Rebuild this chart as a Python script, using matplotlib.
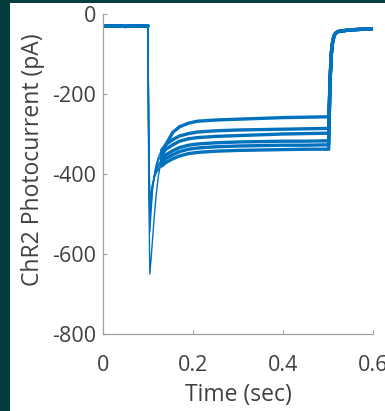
import numpy as np
import matplotlib
matplotlib.use("Agg")
import matplotlib.pyplot as plt
from matplotlib.patches import Rectangle

# ---------------- data ----------------
# shared baseline before light onset
t_pre = [0.0, 0.025, 0.05, 0.075, 0.0999]
i_pre = [-30, -30, -31, -30, -30]

# light-on response, one list per sweep
t_on = [0.1, 0.1015, 0.104, 0.107, 0.110, 0.114, 0.118, 0.123, 0.13, 0.14,
        0.155, 0.17, 0.19, 0.21, 0.25, 0.3, 0.35, 0.4, 0.45, 0.5015]
i_on_1 = [-40, -400, -650, -610, -565, -505, -455, -405, -362, -326,
          -296, -282, -273, -268, -265, -263, -261, -259, -258, -257]
i_on_2 = [-40, -330, -545, -490, -440, -402, -378, -358, -341, -326,
          -314, -305, -299, -295, -292, -290, -289, -288, -287, -286]
i_on_3 = [-40, -315, -520, -475, -435, -404, -384, -366, -351, -338,
          -327, -318, -312, -309, -306, -304, -302, -300, -299, -298]
i_on_4 = [-40, -305, -505, -465, -432, -407, -390, -376, -364, -352,
          -342, -334, -328, -325, -322, -320, -319, -318, -318, -317]
i_on_5 = [-40, -295, -490, -455, -428, -407, -394, -382, -372, -361,
          -352, -344, -338, -335, -332, -330, -329, -328, -328, -327]
i_on_6 = [-40, -285, -475, -445, -425, -409, -398, -389, -380, -371,
          -362, -355, -349, -346, -343, -341, -340, -339, -338, -338]
i_on_all = [i_on_1, i_on_2, i_on_3, i_on_4, i_on_5, i_on_6]

# shared recovery after light offset
t_off = [0.5045, 0.507, 0.509, 0.511, 0.513, 0.515, 0.518, 0.522, 0.528,
         0.54, 0.56, 0.58, 0.598]
i_off = [-170, -105, -80, -66, -57, -51, -47, -44, -43, -41, -39, -38, -37]

x_ticks = [0, 0.2, 0.4, 0.6]
x_ticklabels = ["0", "0.2", "0.4", "0.6"]
y_ticks = [-800, -600, -400, -200, 0]
y_ticklabels = ["-800", "-600", "-400", "-200", "0"]

# ---------------- figure ----------------
plt.rcParams["font.family"] = ["Open Sans", "DejaVu Sans"]
plt.rcParams["axes.unicode_minus"] = False

fig = plt.figure(figsize=(3.85, 4.11), dpi=100)
fig.patch.set_facecolor("#033d3c")
fig.add_artist(Rectangle((10 / 385, 0), 1, 1 - 3 / 411, transform=fig.transFigure,
                         facecolor="white", edgecolor="none", zorder=0))

ax = fig.add_axes([103 / 385, 1 - 334 / 411, 270 / 385, 320 / 411])
ax.set_facecolor("none")

col = "#0072BD"
for i_on in i_on_all:
    t = np.array(t_pre + t_on + t_off)
    y = np.array(i_pre + i_on + i_off)
    # thin line for the whole sweep (fast transients look thin)
    ax.plot(t, y, color=col, lw=1.0, solid_joinstyle="round")
    # noisy slow parts look thicker
    slow = (t <= 0.0999) | (t > 0.125)
    ts = np.where(slow, t, np.nan)
    ys = np.where(slow, y, np.nan)
    ax.plot(ts, ys, color=col, lw=2.4, solid_capstyle="round",
            solid_joinstyle="round")

ax.set_xlim(0, 0.6)
ax.set_ylim(-800, 0)
ax.set_xticks(x_ticks)
ax.set_xticklabels(x_ticklabels)
ax.set_yticks(y_ticks)
ax.set_yticklabels(y_ticklabels)

for s in ["top", "right"]:
    ax.spines[s].set_visible(False)
for s in ["left", "bottom"]:
    ax.spines[s].set_color("#a0a0a0")
    ax.spines[s].set_linewidth(0.9)

ax.tick_params(direction="in", length=3, width=0.8, color="#a0a0a0",
               labelcolor="#404040", labelsize=15.5)
ax.tick_params(axis="x", pad=15)
ax.tick_params(axis="y", pad=5)

ax.set_xlabel("Time (sec)", fontsize=16.5, color="#404040")
ax.set_ylabel("ChR2 Photocurrent (pA)", fontsize=16.5, color="#404040")
ax.xaxis.set_label_coords(0.5, -0.152)
ax.yaxis.set_label_coords(-0.215, 0.545)

fig.savefig("out.png", dpi=100, facecolor=fig.get_facecolor())
